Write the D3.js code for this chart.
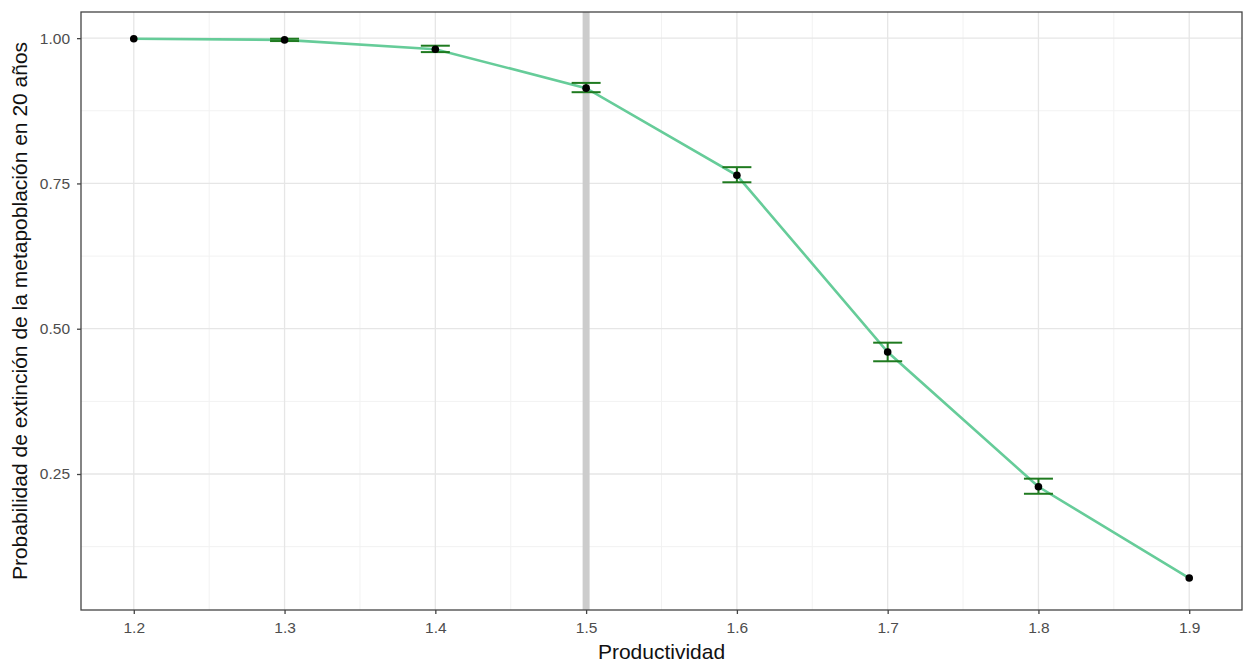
<!DOCTYPE html>
<html>
<head>
<meta charset="utf-8">
<script src="https://cdn.jsdelivr.net/npm/d3@7"></script>
<style>
  html, body { margin: 0; padding: 0; background: #fff; }
  svg { display: block; }
</style>
</head>
<body>
<svg id="chart" width="1244" height="664"></svg>
<script>
// Extinction probability of the metapopulation over 20 years, by productivity
const productividad = [1.2, 1.3, 1.4, 1.5, 1.6, 1.7, 1.8, 1.9];
const probabilidad  = [0.999, 0.997, 0.981, 0.914, 0.764, 0.460, 0.228, 0.071];
const errInf        = [0.999, 0.995, 0.976, 0.907, 0.752, 0.444, 0.216, 0.071];
const errSup        = [0.999, 0.999, 0.987, 0.923, 0.778, 0.476, 0.242, 0.071];
const xTicks = [1.2, 1.3, 1.4, 1.5, 1.6, 1.7, 1.8, 1.9];
const yTicks = [0.25, 0.50, 0.75, 1.00];
const xMinor = [1.25, 1.35, 1.45, 1.55, 1.65, 1.75, 1.85];
const yMinor = [0.125, 0.375, 0.625, 0.875];
const umbral = 1.5;

const FONT = "Liberation Sans, Arial, sans-serif";
const svg = d3.select("#chart");
const panel = { left: 81, right: 1242, top: 12, bottom: 610 };

const x = d3.scaleLinear().domain([1.165, 1.935]).range([panel.left, panel.right]);
const y = d3.scaleLinear().domain([0.016, 1.045]).range([panel.bottom, panel.top]);

// grid
const grid = svg.append("g");
grid.selectAll(".gxm").data(xMinor).enter().append("line")
  .attr("x1", d => x(d)).attr("x2", d => x(d))
  .attr("y1", panel.top).attr("y2", panel.bottom)
  .attr("stroke", "#f2f2f2").attr("stroke-width", 1);
grid.selectAll(".gym").data(yMinor).enter().append("line")
  .attr("x1", panel.left).attr("x2", panel.right)
  .attr("y1", d => y(d)).attr("y2", d => y(d))
  .attr("stroke", "#f2f2f2").attr("stroke-width", 1);
grid.selectAll(".gx").data(xTicks).enter().append("line")
  .attr("x1", d => x(d)).attr("x2", d => x(d))
  .attr("y1", panel.top).attr("y2", panel.bottom)
  .attr("stroke", "#e6e6e6").attr("stroke-width", 1.3);
grid.selectAll(".gy").data(yTicks).enter().append("line")
  .attr("x1", panel.left).attr("x2", panel.right)
  .attr("y1", d => y(d)).attr("y2", d => y(d))
  .attr("stroke", "#e6e6e6").attr("stroke-width", 1.3);

// threshold line
svg.append("line")
  .attr("x1", x(umbral)).attr("x2", x(umbral))
  .attr("y1", panel.top).attr("y2", panel.bottom)
  .attr("stroke", "#cccccc").attr("stroke-width", 7);

const datos = productividad.map((p, i) => ({ p, v: probabilidad[i], lo: errInf[i], hi: errSup[i] }));

// trend line
svg.append("path")
  .datum(datos)
  .attr("fill", "none")
  .attr("stroke", "#66cc99")
  .attr("stroke-width", 2.6)
  .attr("d", d3.line().x(d => x(d.p)).y(d => y(d.v)));

// error bars
const eb = svg.append("g").attr("stroke", "#1f7a1f").attr("stroke-width", 2);
const hw = 14.5;
const conError = datos.filter(d => d.hi - d.lo > 0);
eb.selectAll(".v").data(conError).enter().append("line")
  .attr("x1", d => x(d.p)).attr("x2", d => x(d.p))
  .attr("y1", d => y(d.lo)).attr("y2", d => y(d.hi));
eb.selectAll(".t").data(conError).enter().append("line")
  .attr("x1", d => x(d.p) - hw).attr("x2", d => x(d.p) + hw)
  .attr("y1", d => y(d.hi)).attr("y2", d => y(d.hi));
eb.selectAll(".b").data(conError).enter().append("line")
  .attr("x1", d => x(d.p) - hw).attr("x2", d => x(d.p) + hw)
  .attr("y1", d => y(d.lo)).attr("y2", d => y(d.lo));

// points
svg.selectAll(".pt").data(datos).enter().append("circle")
  .attr("cx", d => x(d.p)).attr("cy", d => y(d.v))
  .attr("r", 3.8).attr("fill", "#000");

// panel border
svg.append("rect")
  .attr("x", panel.left).attr("y", panel.top)
  .attr("width", panel.right - panel.left).attr("height", panel.bottom - panel.top)
  .attr("fill", "none").attr("stroke", "#444").attr("stroke-width", 1.3);

// axes
const xAxis = svg.append("g").attr("transform", `translate(0,${panel.bottom})`)
  .call(d3.axisBottom(x).tickValues(xTicks).tickFormat(d3.format(".1f")).tickSize(4).tickPadding(8));
const yAxis = svg.append("g").attr("transform", `translate(${panel.left},0)`)
  .call(d3.axisLeft(y).tickValues(yTicks).tickFormat(d3.format(".2f")).tickSize(4).tickPadding(7));
[xAxis, yAxis].forEach(a => {
  a.select(".domain").remove();
  a.selectAll(".tick line").attr("stroke", "#444").attr("stroke-width", 1.3);
  a.selectAll(".tick text").attr("fill", "#4d4d4d")
    .style("font-family", FONT).style("font-size", "15.5px");
});

// axis titles
svg.append("text")
  .attr("x", (panel.left + panel.right) / 2).attr("y", 659)
  .attr("text-anchor", "middle")
  .style("font-family", FONT).style("font-size", "21px")
  .attr("fill", "#111").text("Productividad");
svg.append("text")
  .attr("transform", `translate(27,${(panel.top + panel.bottom) / 2}) rotate(-90)`)
  .attr("text-anchor", "middle")
  .style("font-family", FONT).style("font-size", "21px")
  .attr("fill", "#111").text("Probabilidad de extinción de la metapoblación en 20 años");
</script>
</body>
</html>
